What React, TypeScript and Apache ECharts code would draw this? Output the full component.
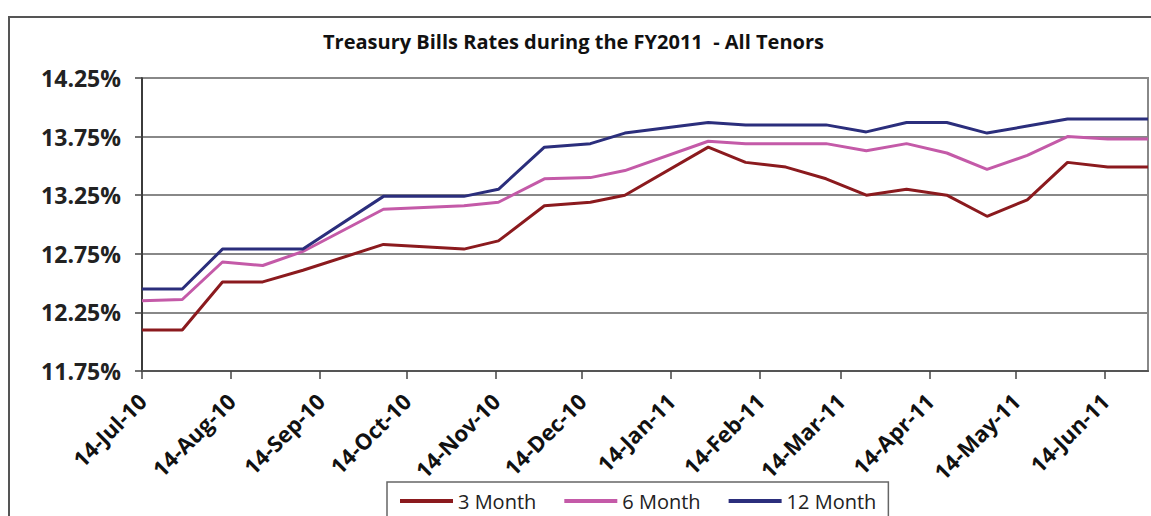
import React, { useEffect, useRef } from "react";
import * as echarts from "echarts";

const TITLE = "Treasury Bills Rates during the FY2011  - All Tenors";
const SERIES_NAMES = ["3 Month", "6 Month", "12 Month"];

const auctionDates = [
  "2010-07-14", "2010-07-28", "2010-08-11", "2010-08-25", "2010-09-08",
  "2010-10-06", "2010-11-03", "2010-11-15", "2010-12-01", "2010-12-17",
  "2010-12-29", "2011-01-27", "2011-02-09", "2011-02-23", "2011-03-09",
  "2011-03-23", "2011-04-06", "2011-04-20", "2011-05-04", "2011-05-18",
  "2011-06-01", "2011-06-15", "2011-06-29",
];

const rate3M = [
  12.10, 12.10, 12.51, 12.51, 12.61, 12.83, 12.79, 12.86, 13.16, 13.19,
  13.25, 13.66, 13.53, 13.49, 13.39, 13.25, 13.30, 13.25, 13.07, 13.21,
  13.53, 13.49, 13.49,
];
const rate6M = [
  12.35, 12.36, 12.68, 12.65, 12.77, 13.13, 13.16, 13.19, 13.39, 13.40,
  13.46, 13.71, 13.69, 13.69, 13.69, 13.63, 13.69, 13.61, 13.47, 13.59,
  13.75, 13.73, 13.73,
];
const rate12M = [
  12.45, 12.45, 12.79, 12.79, 12.79, 13.24, 13.24, 13.30, 13.66, 13.69,
  13.78, 13.87, 13.85, 13.85, 13.85, 13.79, 13.87, 13.87, 13.78, 13.84,
  13.90, 13.90, 13.90,
];

const tickDates = [
  "2010-07-14", "2010-08-14", "2010-09-14", "2010-10-14", "2010-11-14",
  "2010-12-14", "2011-01-14", "2011-02-14", "2011-03-14", "2011-04-14",
  "2011-05-14", "2011-06-14",
];
const tickLabels = [
  "14-Jul-10", "14-Aug-10", "14-Sep-10", "14-Oct-10", "14-Nov-10",
  "14-Dec-10", "14-Jan-11", "14-Feb-11", "14-Mar-11", "14-Apr-11",
  "14-May-11", "14-Jun-11",
];
const yTicks = [11.75, 12.25, 12.75, 13.25, 13.75, 14.25];
const X_MIN = "2010-07-14";
const X_MAX = "2011-06-29";

const COLORS = ["#8B1A1E", "#C45AA8", "#2B2E7C"];

// day number (UTC-based, timezone independent)
function toDay(s: string): number {
  const [y, m, d] = s.split("-").map(Number);
  return Math.round(Date.UTC(y, m - 1, d) / 86400000);
}

export default function App() {
  const ref = useRef<HTMLDivElement>(null);

  useEffect(() => {
    if (!ref.current) return;
    const chart = echarts.init(ref.current, null, { renderer: "svg" });
    const tickDays = tickDates.map(toDay);
    const labelFor = (v: number) => {
      let best = 0;
      let bd = Infinity;
      tickDays.forEach((t, i) => {
        const dd = Math.abs(t - v);
        if (dd < bd) { bd = dd; best = i; }
      });
      return tickLabels[best];
    };
    const allRates = [rate3M, rate6M, rate12M];
    const font = "'Open Sans', 'Noto Sans', sans-serif";

    chart.setOption({
      animation: false,
      backgroundColor: "#ffffff",
      textStyle: { fontFamily: font },
      title: {
        text: TITLE,
        left: 318,
        top: 26,
        textStyle: { fontFamily: font, fontSize: 20, fontWeight: "bold", color: "#111" },
      },
      graphic: [
        {
          type: "rect",
          shape: { x: 9, y: 17, width: 1170, height: 540 },
          style: { fill: "none", stroke: "#555", lineWidth: 2 },
          silent: true,
          z: -1,
        },
      ],
      grid: {
        left: 142,
        right: 3,
        top: 78,
        bottom: 145,
        show: true,
        borderColor: "#888",
        borderWidth: 2,
        backgroundColor: "transparent",
      },
      legend: {
        left: 387,
        top: 482,
        padding: [9, 12, 12, 13],
        itemGap: 28,
        itemWidth: 53,
        itemHeight: 4,
        icon: "rect",
        borderColor: "#666",
        borderWidth: 1.5,
        textStyle: { fontFamily: font, fontSize: 20, color: "#222" },
        data: SERIES_NAMES,
      },
      xAxis: {
        type: "value",
        min: toDay(X_MIN),
        max: toDay(X_MAX),
        axisLine: { show: true, onZero: false, lineStyle: { color: "#555", width: 2 } },
        axisTick: {
          show: true,
          length: 8,
          customValues: tickDays,
          lineStyle: { color: "#444", width: 1.5 },
        },
        axisLabel: {
          customValues: tickDays,
          rotate: 45,
          margin: 26,
          fontFamily: font,
          fontSize: 22,
          fontWeight: "bold",
          color: "#111",
          formatter: (v: number) => labelFor(v),
        },
        splitLine: { show: false },
      },
      yAxis: {
        type: "value",
        min: yTicks[0],
        max: yTicks[yTicks.length - 1],
        axisLine: { show: true, lineStyle: { color: "#222", width: 1.5 } },
        axisTick: {
          show: true,
          length: 7,
          customValues: yTicks,
          lineStyle: { color: "#444", width: 1.5 },
        },
        axisLabel: {
          customValues: yTicks,
          margin: 21,
          fontFamily: font,
          fontSize: 23,
          fontWeight: "bold",
          color: "#222",
          formatter: (v: number) => v.toFixed(2) + "%",
        },
        splitLine: { show: true, lineStyle: { color: "#888", width: 2 } },
      },
      series: SERIES_NAMES.map((name, si) => ({
        name,
        type: "line",
        showSymbol: false,
        symbol: "none",
        color: COLORS[si],
        lineStyle: { color: COLORS[si], width: 3 },
        data: auctionDates.map((d, i) => [toDay(d), allRates[si][i]]),
      })),
    });
    return () => chart.dispose();
  }, []);

  return (
    <div
      ref={ref}
      style={{ position: "fixed", left: 0, top: 0, width: 1151, height: 516, background: "#fff" }}
    />
  );
}
